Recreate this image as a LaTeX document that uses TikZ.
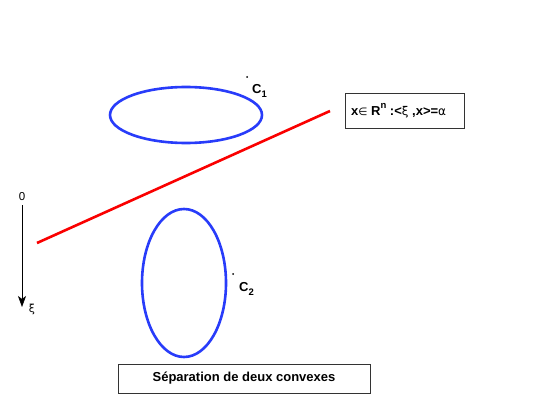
\documentclass[tikz,border=0pt]{standalone}
\usepackage{fontspec}
\setmainfont{Liberation Sans}
\newfontfamily\symf{DejaVu Sans}
\usetikzlibrary{arrows.meta}
\definecolor{cblue}{RGB}{40,60,250}
\definecolor{cred}{RGB}{250,0,0}
\tikzset{
  convex/.style={draw=cblue, line width=2.6pt},
  lbl/.style={font=\bfseries\fontsize{13}{15}\selectfont, inner sep=0pt},
  boxed/.style={draw=black!80, line width=0.6pt, inner sep=0pt},
}
\begin{document}
\begin{tikzpicture}[x=1pt,y=-1pt]
\useasboundingbox (0,0) rectangle (554,417);
\fill[white] (0,0) rectangle (554,417);
% convex sets
\draw[convex] (186,115) ellipse [x radius=76, y radius=28];
\draw[convex] (184,283) ellipse [x radius=42, y radius=74];
% separating hyperplane
\coordinate (h1) at (37,243);
\coordinate (h2) at (330,111);
\draw[cred, line width=2.6pt] (h1) -- (h2);
% labels
\fill (247,77) circle (1);
\node[lbl, anchor=west] (c1) at (252,91) {C\raisebox{-0.45ex}{\fontsize{9.5}{10}\selectfont 1}};
\fill (233,274) circle (1);
\node[lbl, anchor=west] (c2) at (239,289) {C\raisebox{-0.45ex}{\fontsize{9.5}{10}\selectfont 2}};
% hyperplane box
\node[boxed, minimum width=119, minimum height=35, anchor=north west] (hb) at (345,93) {};
\node[lbl, anchor=west] (ht) at (351,111) {x{\symf\mdseries\fontsize{10.5}{11}\selectfont ∈} R\raisebox{1.0ex}{\fontsize{9.5}{10}\selectfont n} :<{\symf\mdseries\fontsize{12}{13}\selectfont ξ} ,x>={\symf\mdseries\fontsize{12}{13}\selectfont α}};
% axis
\node[font=\fontsize{11.5}{13}\selectfont, inner sep=0pt] (zero) at (22,197) {0};
\coordinate (xi0) at (22,205);
\coordinate (xi1) at (22,307);
\draw[line width=0.6pt, -{Stealth[length=11pt,width=8pt,inset=3pt]}] (xi0) -- (xi1);
\node[font=\symf\fontsize{11}{12}\selectfont, inner sep=0pt] (xi) at (32,309) {ξ};
% title box
\node[boxed, minimum width=252, minimum height=29, anchor=north west] (tb) at (118,364) {};
\node[lbl] (tt) at (244,378.5) {Séparation de deux convexes};
\end{tikzpicture}
\end{document}
